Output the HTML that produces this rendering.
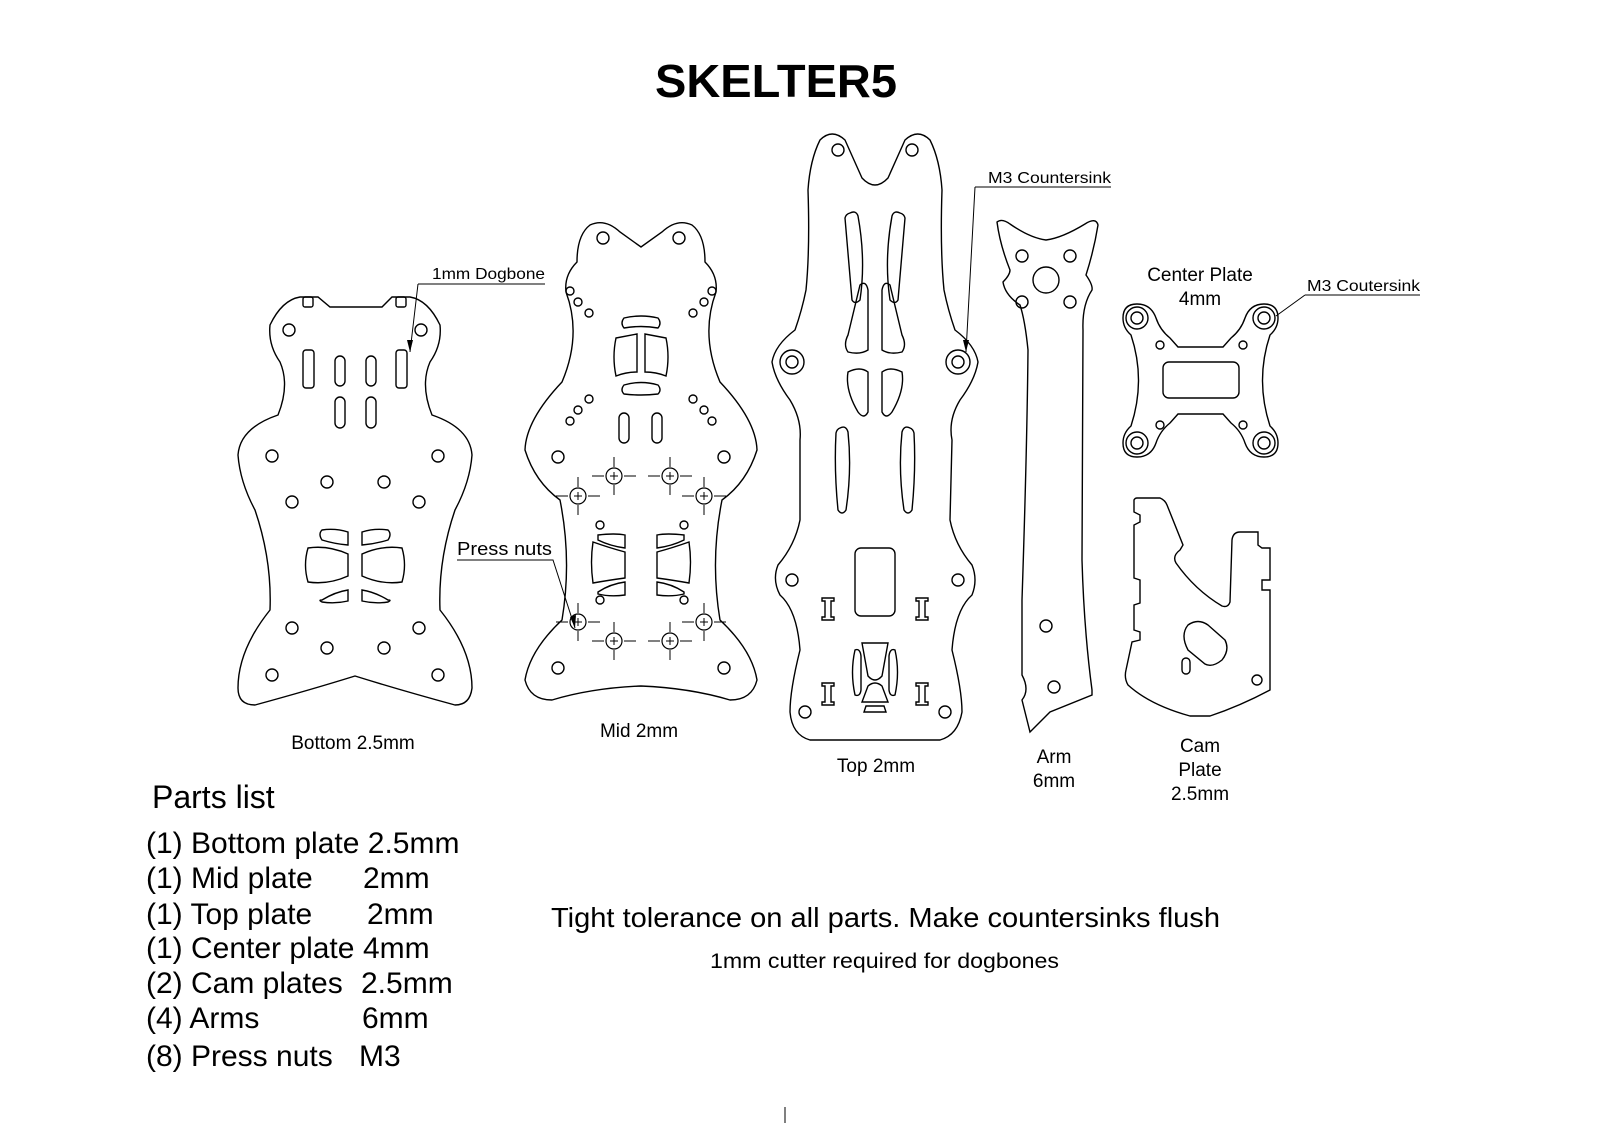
<!DOCTYPE html>
<html><head><meta charset="utf-8"><style>
html,body{margin:0;padding:0;background:#fff;width:1600px;height:1147px;overflow:hidden;}
svg{display:block;}
text{font-family:"Liberation Sans",Arial,sans-serif;fill:#000;}
</style></head><body>
<svg width="1600" height="1147" viewBox="0 0 1600 1147" xmlns="http://www.w3.org/2000/svg">
<rect width="1600" height="1147" fill="#fff"/>
<text x="776" y="97" font-size="46" font-weight="bold" text-anchor="middle" textLength="242" lengthAdjust="spacingAndGlyphs">SKELTER5</text>

<g fill="none" stroke="#000" stroke-width="1.4">
<!-- Bottom plate -->
<path d="M300,297 L318,297 L330,307 L382,307 L392,297 L410,297 Q428,300 440,325 Q442,345 430,362 Q420,385 432,415 Q470,428 472,455 Q470,482 455,510 Q438,560 440,610 Q472,650 472,688 Q470,705 455,705 Q400,690 355,676 Q310,690 255,705 Q238,705 238,688 Q238,650 270,610 Q272,560 255,510 Q240,482 238,455 Q240,428 278,415 Q290,385 280,362 Q268,345 270,325 Q282,300 300,297 Z"/>
<rect x="303" y="297" width="10" height="10" rx="2"/><rect x="396" y="297" width="10" height="10" rx="2"/>
<g>
<circle cx="289" cy="330" r="6"/><circle cx="421" cy="330" r="6"/>
<circle cx="272" cy="456" r="6"/><circle cx="438" cy="456" r="6"/>
<circle cx="327" cy="482" r="6"/><circle cx="384" cy="482" r="6"/>
<circle cx="292" cy="502" r="6"/><circle cx="419" cy="502" r="6"/>
<circle cx="292" cy="628" r="6"/><circle cx="419" cy="628" r="6"/>
<circle cx="327" cy="648" r="6"/><circle cx="384" cy="648" r="6"/>
<circle cx="272" cy="675" r="6"/><circle cx="438" cy="675" r="6"/>
</g>
<rect x="303" y="350" width="11" height="38" rx="3"/><rect x="396" y="350" width="11" height="38" rx="3"/>
<rect x="335" y="356" width="10" height="30" rx="5"/><rect x="366" y="356" width="10" height="30" rx="5"/>
<rect x="335" y="397" width="10" height="31" rx="5"/><rect x="366" y="397" width="10" height="31" rx="5"/>
<path d="M322,530 Q335,528 348,532 L348,545 Q335,544 322,540 Q318,534 322,530 Z"/>
<path d="M388,530 Q375,528 362,532 L362,545 Q375,544 388,540 Q392,534 388,530 Z"/>
<path d="M308,548 Q328,545 348,554 L348,576 Q328,585 308,582 Q303,565 308,548 Z"/>
<path d="M402,548 Q382,545 362,554 L362,576 Q382,585 402,582 Q407,565 402,548 Z"/>
<path d="M322,600 Q335,592 348,590 L348,601 Q335,604 322,602 Q318,600 322,600 Z"/>
<path d="M388,600 Q375,592 362,590 L362,601 Q375,604 388,602 Q392,600 388,600 Z"/>

<!-- Mid plate -->
<path d="M590,225 Q605,218 620,232 L641,247 L662,232 Q677,218 692,225 Q705,235 705,262 Q718,275 716,292 Q700,335 720,382 Q756,420 757,450 Q747,482 722,500 Q710,560 720,620 Q752,650 757,680 Q752,700 730,700 Q690,688 641,686 Q592,688 552,700 Q530,700 525,680 Q530,650 562,620 Q572,560 560,500 Q535,482 525,450 Q526,420 562,382 Q582,335 566,292 Q564,275 577,262 Q577,235 590,225 Z"/>
<circle cx="603" cy="238" r="6"/><circle cx="679" cy="238" r="6"/>
<circle cx="570" cy="291" r="4"/><circle cx="578" cy="302" r="4"/><circle cx="589" cy="313" r="4"/>
<circle cx="712" cy="291" r="4"/><circle cx="704" cy="302" r="4"/><circle cx="693" cy="313" r="4"/>
<circle cx="570" cy="421" r="4"/><circle cx="578" cy="410" r="4"/><circle cx="589" cy="399" r="4"/>
<circle cx="712" cy="421" r="4"/><circle cx="704" cy="410" r="4"/><circle cx="693" cy="399" r="4"/>
<path d="M624,318 Q641,314 658,318 Q662,323 658,328 Q641,325 624,328 Q620,323 624,318 Z"/>
<path d="M616,338 L637,334 L637,372 Q626,372 616,376 Q612,357 616,338 Z"/>
<path d="M666,338 L645,334 L645,372 Q656,372 666,376 Q670,357 666,338 Z"/>
<path d="M624,385 Q641,380 658,385 Q662,390 658,394 Q641,396 624,394 Q620,390 624,385 Z"/>
<rect x="619" y="413" width="10" height="30" rx="5"/><rect x="652" y="413" width="10" height="30" rx="5"/>
<circle cx="558" cy="457" r="6"/><circle cx="724" cy="457" r="6"/>
<circle cx="558" cy="668" r="6"/><circle cx="724" cy="668" r="6"/>
<circle cx="600" cy="525" r="4"/><circle cx="684" cy="525" r="4"/><circle cx="600" cy="600" r="4"/><circle cx="684" cy="600" r="4"/>
<path d="M598,535 Q615,533 625,535 L625,548 Q610,546 598,540 Z"/>
<path d="M684,535 Q667,533 657,535 L657,548 Q672,546 684,540 Z"/>
<path d="M593,542 Q610,548 625,552 L625,578 Q610,580 593,583 Q590,562 593,542 Z"/>
<path d="M689,542 Q672,548 657,552 L657,578 Q672,580 689,583 Q692,562 689,542 Z"/>
<path d="M598,592 Q610,584 625,582 L625,595 Q610,597 598,594 Z"/>
<path d="M684,592 Q672,584 657,582 L657,595 Q672,597 684,594 Z"/>
<g stroke-width="1.2">
<circle cx="614" cy="476" r="8"/><circle cx="670" cy="476" r="8"/>
<circle cx="578" cy="496" r="8"/><circle cx="704" cy="496" r="8"/>
<circle cx="578" cy="622" r="8"/><circle cx="704" cy="622" r="8"/>
<circle cx="614" cy="641" r="8"/><circle cx="670" cy="641" r="8"/>
</g>
<g stroke-width="1">
<path d="M610,476h8M614,472v8M666,476h8M670,472v8M574,496h8M578,492v8M700,496h8M704,492v8M574,622h8M578,618v8M700,622h8M704,618v8M610,641h8M614,637v8M666,641h8M670,637v8"/>
<path d="M614,457v10M614,485v10M592,476h12M624,476h12M670,457v10M670,485v10M648,476h12M680,476h12"/>
<path d="M578,477v10M578,505v10M556,496h12M588,496h12M704,477v10M704,505v10M682,496h12M714,496h12"/>
<path d="M578,603v10M578,631v10M556,622h12M588,622h12M704,603v10M704,631v10M682,622h12M714,622h12"/>
<path d="M614,622v10M614,650v10M592,641h12M624,641h12M670,622v10M670,650v10M648,641h12M680,641h12"/>
</g>

<!-- Top plate -->
<path d="M820,140 Q832,128 845,140 L862,178 Q875,192 888,178 L905,140 Q918,128 930,140 Q940,160 942,190 Q940,250 944,290 Q948,310 955,330 Q975,345 978,362 Q975,380 960,400 Q948,420 952,440 L950,520 Q955,545 972,565 Q978,580 972,595 Q955,610 952,650 Q962,690 962,712 Q958,735 940,740 L810,740 Q792,735 790,712 Q790,690 800,650 Q797,610 780,595 Q772,580 778,565 Q795,545 800,520 L800,440 Q802,420 790,400 Q775,380 772,362 Q775,345 795,330 Q802,310 806,290 Q810,250 808,190 Q810,160 820,140 Z"/>
<circle cx="838" cy="150" r="6"/><circle cx="912" cy="150" r="6"/>
<path d="M850,213 Q856,210 858,216 Q866,260 860,300 Q855,305 852,300 Q848,255 845,218 Q846,214 850,213 Z"/>
<path d="M900,213 Q894,210 892,216 Q884,260 890,300 Q895,305 898,300 Q902,255 905,218 Q904,214 900,213 Z"/>
<path d="M860,285 Q866,280 868,290 L868,350 Q860,355 848,352 Q843,345 848,335 Z"/>
<path d="M890,285 Q884,280 882,290 L882,350 Q890,355 902,352 Q907,345 902,335 Z"/>
<path d="M848,372 Q860,366 868,372 L868,412 Q864,420 858,412 Q845,390 848,372 Z"/>
<path d="M902,372 Q890,366 882,372 L882,412 Q886,420 892,412 Q905,390 902,372 Z"/>
<path d="M840,428 Q846,425 848,432 Q852,470 846,510 Q842,516 838,510 Q834,470 836,433 Q837,429 840,428 Z"/>
<path d="M910,428 Q904,425 902,432 Q898,470 904,510 Q908,516 912,510 Q916,470 914,433 Q913,429 910,428 Z"/>
<circle cx="792" cy="362" r="12"/><circle cx="792" cy="362" r="6"/>
<circle cx="958" cy="362" r="12"/><circle cx="958" cy="362" r="6"/>
<circle cx="792" cy="580" r="6"/><circle cx="958" cy="580" r="6"/>
<circle cx="805" cy="712" r="6"/><circle cx="945" cy="712" r="6"/>
<rect x="855" y="548" width="40" height="68" rx="6"/>
<path d="M822,598h12v3h-3v16h3v3h-12v-3h3v-16h-3z"/>
<path d="M916,598h12v3h-3v16h3v3h-12v-3h3v-16h-3z"/>
<path d="M822,683h12v3h-3v16h3v3h-12v-3h3v-16h-3z"/>
<path d="M916,683h12v3h-3v16h3v3h-12v-3h3v-16h-3z"/>
<path d="M862,643 L888,643 L882,676 Q875,684 868,676 Z"/>
<path d="M866,706 L884,706 L886,712 L864,712 Z"/>
<path d="M868,686 Q875,680 882,686 L888,702 L862,702 Z"/>
<path d="M855,650 Q850,672 855,695 Q860,697 861,690 L861,656 Q860,648 855,650 Z"/>
<path d="M895,650 Q900,672 895,695 Q890,697 889,690 L889,656 Q890,648 895,650 Z"/>

<!-- Arm -->
<path d="M997,222 Q1002,218 1010,224 Q1030,238 1046,240 Q1062,238 1085,224 Q1096,217 1098,225 Q1094,250 1086,275 Q1093,285 1092,290 Q1082,305 1083,330 L1082,560 Q1084,630 1092,690 L1092,695 L1050,712 L1030,732 L1022,700 Q1030,690 1022,675 L1022,600 Q1027,450 1028,350 Q1025,320 1020,305 Q1005,295 1003,282 Q1010,275 1010,270 Q1000,245 997,222 Z"/>
<circle cx="1022" cy="256" r="6"/><circle cx="1070" cy="256" r="6"/>
<circle cx="1022" cy="302" r="6"/><circle cx="1070" cy="302" r="6"/>
<circle cx="1046" cy="280" r="13"/>
<circle cx="1046" cy="626" r="6"/><circle cx="1054" cy="687" r="6"/>

<!-- Center plate -->
<path d="M1137,304 Q1151,304 1156,318 Q1160,330 1170,338 L1178,347 L1223,347 L1231,338 Q1241,330 1245,318 Q1250,304 1264,304 Q1278,304 1278,318 Q1278,328 1270,335 Q1255,380 1270,426 Q1278,433 1278,443 Q1278,457 1264,457 Q1250,457 1245,443 Q1241,431 1231,423 L1223,414 L1178,414 L1170,423 Q1160,431 1156,443 Q1151,457 1137,457 Q1123,457 1123,443 Q1123,433 1131,426 Q1146,380 1131,335 Q1123,328 1123,318 Q1123,304 1137,304 Z"/>
<circle cx="1137" cy="318" r="11"/><circle cx="1137" cy="318" r="6"/>
<circle cx="1264" cy="318" r="11"/><circle cx="1264" cy="318" r="6"/>
<circle cx="1137" cy="443" r="11"/><circle cx="1137" cy="443" r="6"/>
<circle cx="1264" cy="443" r="11"/><circle cx="1264" cy="443" r="6"/>
<circle cx="1160" cy="345" r="4"/><circle cx="1243" cy="345" r="4"/>
<circle cx="1160" cy="425" r="4"/><circle cx="1243" cy="425" r="4"/>
<rect x="1163" y="362" width="76" height="36" rx="6"/>

<!-- Cam plate -->
<path d="M1137,498 L1160,498 Q1165,500 1167,505 L1183,545 L1180,550 Q1172,556 1176,563 Q1195,590 1222,606 Q1228,608 1230,602 L1232,540 Q1233,532 1240,532 L1258,532 L1258,545 L1262,548 L1270,548 L1270,580 L1262,580 L1262,590 L1270,590 L1270,690 Q1240,706 1210,716 L1190,716 Q1150,705 1128,685 Q1124,678 1126,670 L1132,642 L1140,640 L1140,632 L1134,630 L1134,605 L1140,603 L1140,580 L1134,578 L1134,525 L1140,522 L1140,515 L1134,512 L1134,500 Q1135,498 1137,498 Z"/>
<path d="M1188,625 Q1198,618 1208,625 L1225,640 Q1230,650 1222,660 Q1212,668 1205,664 L1188,650 Q1180,635 1188,625 Z"/>
<rect x="1182" y="658" width="8" height="16" rx="4"/>
<circle cx="1257" cy="680" r="5"/>
</g>

<!-- Leaders -->
<g fill="none" stroke="#000" stroke-width="1">
<path d="M418,284 L545,284 M418,284 L410,352"/>
<path d="M457,560 L553,560 L575,628"/>
<path d="M975,187 L1111,187 M975,187 L966,352"/>
<path d="M1305,295 L1420,295 M1305,295 L1276,316"/>
<path d="M785,1107 L785,1123"/>
</g>
<g fill="#000">
<path d="M410,352 L407,340 L413,340 Z"/>
<path d="M575,628 L570,617 L576,615 Z"/>
<path d="M966,352 L963,340 L969,340 Z"/>
</g>
<text x="432" y="279" font-size="16" textLength="113" lengthAdjust="spacingAndGlyphs">1mm Dogbone</text>
<text x="457" y="555" font-size="18" textLength="95" lengthAdjust="spacingAndGlyphs">Press nuts</text>
<text x="988" y="183" font-size="16" textLength="123" lengthAdjust="spacingAndGlyphs">M3 Countersink</text>
<text x="1307" y="291" font-size="16" textLength="113" lengthAdjust="spacingAndGlyphs">M3 Coutersink</text>

<g font-size="19" text-anchor="middle">
<text x="353" y="749">Bottom 2.5mm</text>
<text x="639" y="737">Mid 2mm</text>
<text x="876" y="772">Top 2mm</text>
<text x="1054" y="763">Arm</text><text x="1054" y="787">6mm</text>
<text x="1200" y="752">Cam</text><text x="1200" y="776">Plate</text><text x="1200" y="800">2.5mm</text>
<text x="1200" y="281">Center Plate</text><text x="1200" y="305">4mm</text>
</g>

<g font-size="30">
<text x="152" y="808" font-size="32">Parts list</text>
<text x="146" y="853">(1) Bottom plate 2.5mm</text>
<text x="146" y="888">(1) Mid plate</text><text x="363" y="888">2mm</text>
<text x="146" y="924">(1) Top plate</text><text x="367" y="924">2mm</text>
<text x="146" y="958">(1) Center plate</text><text x="363" y="958">4mm</text>
<text x="146" y="993">(2) Cam plates</text><text x="361" y="993">2.5mm</text>
<text x="146" y="1028">(4) Arms</text><text x="362" y="1028">6mm</text>
<text x="146" y="1066">(8) Press nuts</text><text x="359" y="1066">M3</text>
</g>
<text x="551" y="927" font-size="28" textLength="669" lengthAdjust="spacingAndGlyphs">Tight tolerance on all parts. Make countersinks flush</text>
<text x="710" y="968" font-size="21" textLength="349" lengthAdjust="spacingAndGlyphs">1mm cutter required for dogbones</text>
</svg>
</body></html>
